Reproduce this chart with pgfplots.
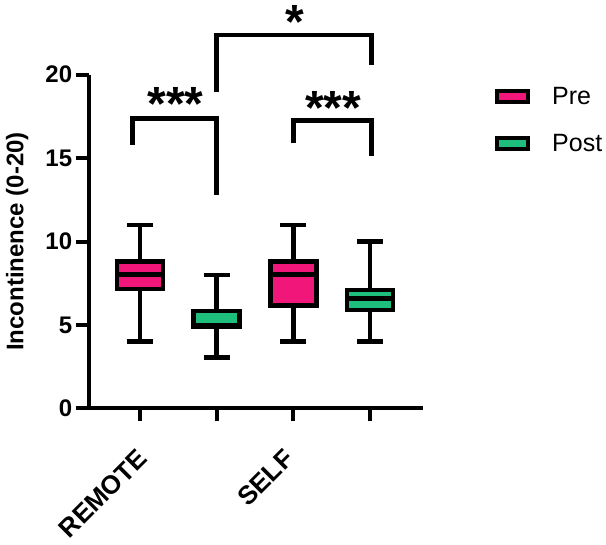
\documentclass[border=0pt]{standalone}
\usepackage{fontspec}
\setmainfont{Liberation Sans}
\usepackage{pgfplots}
\pgfplotsset{compat=1.18}
\usepgfplotslibrary{statistics}
\definecolor{prepink}{RGB}{240,22,122}
\definecolor{postgreen}{RGB}{30,190,125}
\begin{document}
\begin{tikzpicture}
\useasboundingbox (-88.7pt,-136.5pt) rectangle (517.3pt,408.5pt);
\begin{axis}[
  at={(0pt,0pt)}, anchor=south west,
  scale only axis, width=334pt, height=333.8pt,
  xmin=0.331, xmax=4.686, ymin=0, ymax=20,
  axis x line=bottom, axis y line=left,
  axis line style={-, line width=4pt, black},
  tick style={line width=4pt, black},
  tick align=outside, major tick length=13pt,
  xtick={1,2,3,4}, xticklabels={},
  extra x ticks={1.087,3.0}, extra x tick labels={REMOTE,SELF},
  extra x tick style={major tick length=0pt,
    xticklabel style={xshift=-11pt, yshift=-39pt, rotate=45, anchor=north east, inner sep=0pt,
      font=\fontsize{26}{30}\selectfont\bfseries}},
  ytick={0,5,10,15,20},
  /pgf/number format/assume math mode=true,
  tick label style={font=\fontsize{24}{28}\selectfont\bfseries},
  ylabel={Incontinence (0-20)},
  ylabel style={at={(axis description cs:-0.1958,0.5)}, anchor=base,
    font=\fontsize{24}{28}\selectfont\bfseries},
  clip=false,
  boxplot/draw direction=y,
  legend style={draw=none, fill=none, at={(axis description cs:1.2165,0.864)}, anchor=west,
    font=\fontsize{25}{30}\selectfont, inner sep=0pt, outer sep=0pt,
    nodes={inner sep=2pt}, column sep=20pt, row sep=24pt},
  legend cell align=left,
]
% boxes
\addplot[forget plot, boxplot prepared={draw position=1, lower whisker=4, lower quartile=7.16,
  median=8.03, upper quartile=8.82, upper whisker=11, box extend=0.6, whisker extend=0.34},
  fill=prepink, draw=black, line width=4.6pt, line join=miter] coordinates {};
\addplot[forget plot, boxplot prepared={draw position=2, lower whisker=3.05, lower quartile=4.9,
  median=4.97, upper quartile=5.84, upper whisker=8, box extend=0.6, whisker extend=0.34},
  fill=postgreen, draw=black, line width=4.6pt, line join=miter] coordinates {};
\addplot[forget plot, boxplot prepared={draw position=3, lower whisker=4, lower quartile=6.16,
  median=8.03, upper quartile=8.82, upper whisker=11, box extend=0.6, whisker extend=0.34},
  fill=prepink, draw=black, line width=4.6pt, line join=miter] coordinates {};
\addplot[forget plot, boxplot prepared={draw position=4, lower whisker=4, lower quartile=5.91,
  median=6.6, upper quartile=7.09, upper whisker=10, box extend=0.6, whisker extend=0.34},
  fill=postgreen, draw=black, line width=4.6pt, line join=miter] coordinates {};
% significance brackets
\addplot[forget plot, black, line width=4.6pt, line join=miter] coordinates {(0.905,15.79) (0.905,17.36) (2.0,17.36) (2.0,12.79)};
\addplot[forget plot, black, line width=4.6pt, line join=miter] coordinates {(3.0,15.89) (3.0,17.24) (4.02,17.24) (4.02,15.13)};
\addplot[forget plot, black, line width=4.6pt, line join=miter] coordinates {(2.0,18.98) (2.0,22.39) (4.02,22.39) (4.02,20.58)};
\node[anchor=base, font=\fontsize{48}{50}\selectfont\bfseries, inner sep=0pt] at (axis cs:1.465,17.24) {***};
\node[anchor=base, font=\fontsize{48}{50}\selectfont\bfseries, inner sep=0pt] at (axis cs:3.519,17.0) {***};
\node[anchor=base, font=\fontsize{48}{50}\selectfont\bfseries, inner sep=0pt] at (axis cs:3.023,22.15) {*};
% legend
\addlegendimage{legend image code/.code={\draw[fill=prepink,draw=black,line width=4.2pt] (0pt,-5.5pt) rectangle (31pt,5.5pt);}}
\addlegendimage{legend image code/.code={\draw[fill=postgreen,draw=black,line width=4.2pt] (0pt,-5.5pt) rectangle (31pt,5.5pt);}}
\legend{Pre,Post}
\end{axis}
\end{tikzpicture}
\end{document}
